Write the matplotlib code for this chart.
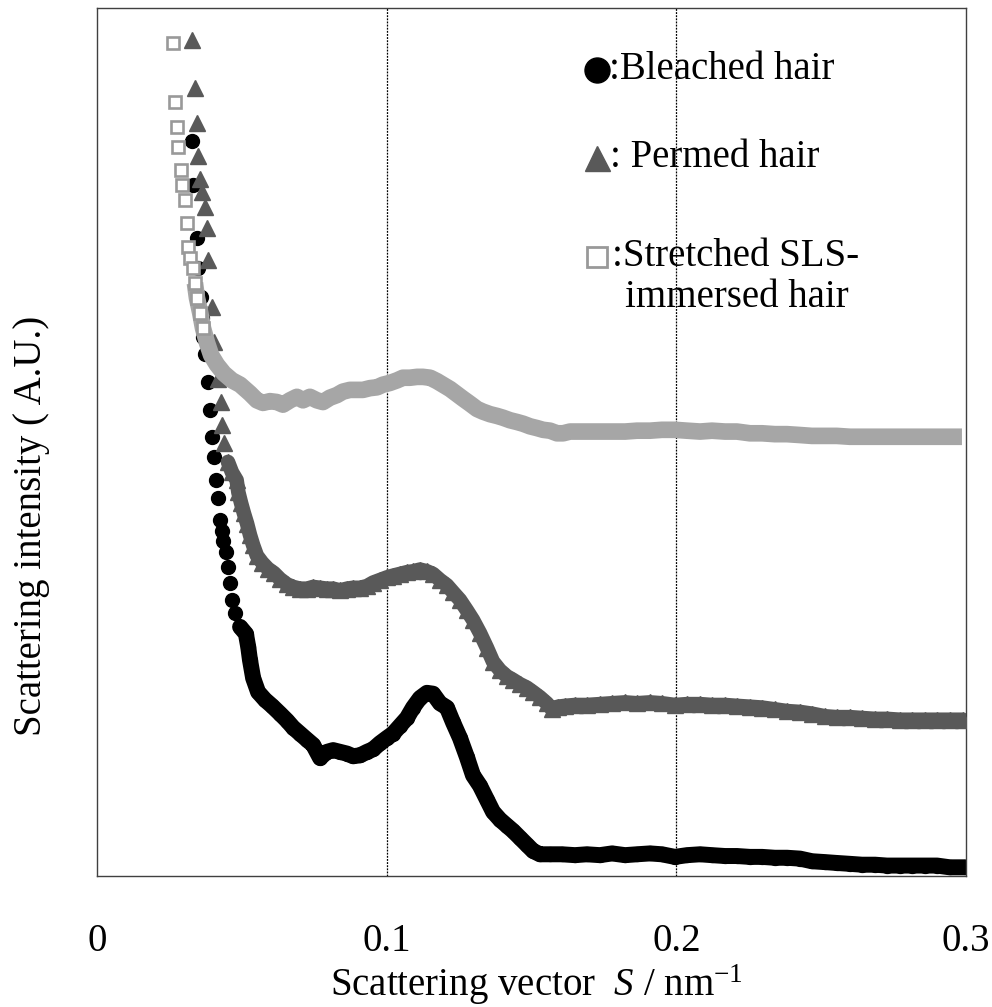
import matplotlib
matplotlib.use("Agg")
import matplotlib.pyplot as plt

plt.rcParams['font.family'] = ['Liberation Serif', 'DejaVu Serif']
plt.rcParams['mathtext.fontset'] = 'custom'
plt.rcParams['mathtext.rm'] = 'Liberation Serif'
plt.rcParams['mathtext.it'] = 'Liberation Serif:italic'

# Bleached hair (circles)
bleached_s = [0.0327, 0.0332, 0.0344, 0.0350, 0.0359, 0.0362, 0.0367, 0.0373, 0.0384, 0.0390,
              0.0396, 0.0404, 0.0411, 0.0419, 0.0425, 0.0432, 0.0436, 0.0445, 0.0453, 0.0459,
              0.0465, 0.0476, 0.0494, 0.0514, 0.0522, 0.0528, 0.0539, 0.0556, 0.0580, 0.0604,
              0.0632, 0.0656, 0.0677, 0.0701, 0.0725, 0.0746, 0.0770, 0.0794, 0.0815, 0.0839,
              0.0863, 0.0884, 0.0908, 0.0932, 0.0953, 0.0977, 0.1001, 0.1022, 0.1046, 0.1070,
              0.1091, 0.1115, 0.1139, 0.1160, 0.1184, 0.1208, 0.1229, 0.1253, 0.1277, 0.1298,
              0.1322, 0.1346, 0.1367, 0.1391, 0.1415, 0.1436, 0.1460, 0.1484, 0.1505, 0.1529,
              0.1564, 0.1605, 0.1650, 0.1691, 0.1736, 0.1778, 0.1823, 0.1864, 0.1909, 0.1950,
              0.1995, 0.2037, 0.2082, 0.2123, 0.2168, 0.2209, 0.2254, 0.2296, 0.2340, 0.2382,
              0.2427, 0.2468, 0.2513, 0.2554, 0.2599, 0.2641, 0.2686, 0.2727, 0.2772, 0.2813,
              0.2858, 0.2900, 0.2944, 0.2996]
bleached_i = [84.7, 79.6, 73.5, 70.0, 66.7, 64.3, 62.1, 60.1, 56.9, 53.7,
              50.6, 48.3, 45.6, 43.5, 41.0, 39.7, 38.6, 37.3, 35.6, 33.8,
              31.8, 30.3, 28.7, 27.9, 26.4, 24.9, 22.8, 21.2, 20.3, 19.6,
              18.7, 17.9, 17.1, 16.4, 15.7, 15.1, 13.6, 14.3, 14.5, 14.3,
              14.1, 13.8, 13.9, 14.3, 14.6, 15.3, 15.9, 16.4, 17.3, 18.2,
              19.4, 20.5, 21.1, 21.0, 19.9, 19.4, 17.7, 15.9, 13.7, 11.6,
              10.4, 8.8, 7.4, 6.5, 5.8, 5.2, 4.4, 3.6, 2.9, 2.5,
              2.5, 2.5, 2.4, 2.5, 2.4, 2.6, 2.4, 2.5, 2.6, 2.5,
              2.2, 2.4, 2.5, 2.4, 2.3, 2.3, 2.2, 2.2, 2.1, 2.1,
              2.0, 1.7, 1.6, 1.5, 1.4, 1.3, 1.3, 1.2, 1.2, 1.2,
              1.2, 1.2, 1.0, 1.0]
bleached_band_start = 22

# Permed hair (triangles)
permed_s = [0.0327, 0.0338, 0.0346, 0.0350, 0.0356, 0.0361, 0.0373, 0.0379, 0.0384, 0.0396,
            0.0404, 0.0416, 0.0427, 0.0433, 0.0440, 0.0452, 0.0466, 0.0482, 0.0488, 0.0497,
            0.0507, 0.0518, 0.0528, 0.0539, 0.0552, 0.0570, 0.0590, 0.0611, 0.0632, 0.0656,
            0.0677, 0.0701, 0.0725, 0.0746, 0.0770, 0.0794, 0.0815, 0.0839, 0.0863, 0.0884,
            0.0908, 0.0932, 0.0953, 0.0977, 0.1001, 0.1022, 0.1046, 0.1070, 0.1091, 0.1115,
            0.1139, 0.1160, 0.1184, 0.1208, 0.1229, 0.1253, 0.1277, 0.1298, 0.1322, 0.1346,
            0.1367, 0.1391, 0.1415, 0.1436, 0.1460, 0.1484, 0.1505, 0.1529, 0.1553, 0.1571,
            0.1591, 0.1616, 0.1650, 0.1691, 0.1736, 0.1778, 0.1823, 0.1864, 0.1909, 0.1950,
            0.1995, 0.2037, 0.2082, 0.2123, 0.2168, 0.2209, 0.2254, 0.2296, 0.2340, 0.2382,
            0.2427, 0.2468, 0.2513, 0.2554, 0.2599, 0.2641, 0.2686, 0.2727, 0.2772, 0.2813,
            0.2858, 0.2900, 0.2944, 0.2989]
permed_i = [96.3, 90.8, 86.8, 82.9, 80.3, 78.8, 77.1, 74.7, 71.0, 65.6,
            61.5, 57.3, 54.6, 52.0, 49.9, 47.7, 46.5, 45.6, 44.2, 43.0,
            41.8, 40.6, 39.3, 38.1, 36.9, 36.1, 35.4, 34.9, 34.2, 33.6,
            33.3, 33.1, 33.1, 33.3, 33.2, 33.1, 33.1, 32.9, 33.1, 33.2,
            33.2, 33.4, 33.8, 34.1, 34.4, 34.6, 34.8, 35.0, 35.1, 35.3,
            35.1, 34.8, 34.1, 33.5, 32.7, 31.8, 30.6, 29.5, 28.0, 26.3,
            24.7, 23.7, 23.0, 22.6, 22.1, 21.7, 21.2, 20.6, 19.9, 19.2,
            19.5, 19.6, 19.7, 19.7, 19.8, 19.9, 20.0, 19.9, 20.0, 19.9,
            19.7, 19.8, 19.8, 19.7, 19.7, 19.6, 19.5, 19.4, 19.2, 19.0,
            18.9, 18.7, 18.4, 18.3, 18.3, 18.2, 18.1, 18.1, 18.0, 18.0,
            18.0, 18.0, 18.0, 18.0]
permed_band_start = 15

# Stretched SLS-immersed hair (open squares)
stretched_s = [0.0261, 0.0269, 0.0275, 0.0281, 0.0289, 0.0292, 0.0304, 0.0310, 0.0315, 0.0321,
               0.0332, 0.0338, 0.0345, 0.0356, 0.0366, 0.0380, 0.0394, 0.0414, 0.0438, 0.0466,
               0.0494, 0.0528, 0.0552, 0.0573, 0.0597, 0.0621, 0.0642, 0.0666, 0.0690, 0.0711,
               0.0735, 0.0759, 0.0780, 0.0804, 0.0828, 0.0849, 0.0873, 0.0898, 0.0918, 0.0942,
               0.0967, 0.0987, 0.1011, 0.1036, 0.1056, 0.1080, 0.1105, 0.1125, 0.1150, 0.1174,
               0.1194, 0.1219, 0.1243, 0.1263, 0.1288, 0.1312, 0.1332, 0.1357, 0.1381, 0.1401,
               0.1426, 0.1450, 0.1471, 0.1495, 0.1519, 0.1540, 0.1564, 0.1588, 0.1609, 0.1633,
               0.1667, 0.1702, 0.1736, 0.1778, 0.1823, 0.1864, 0.1909, 0.1950, 0.1995, 0.2037,
               0.2082, 0.2123, 0.2168, 0.2209, 0.2254, 0.2296, 0.2340, 0.2382, 0.2427, 0.2468,
               0.2513, 0.2554, 0.2599, 0.2641, 0.2686, 0.2727, 0.2772, 0.2813, 0.2858, 0.2900,
               0.2944, 0.2986]
stretched_i = [96.0, 89.2, 86.3, 84.0, 81.3, 79.6, 77.9, 75.2, 72.5, 71.2,
               70.0, 68.3, 66.6, 64.9, 63.1, 61.4, 60.0, 58.9, 57.9, 57.1,
               56.6, 55.6, 54.8, 54.5, 54.7, 54.6, 54.3, 54.8, 55.2, 54.8,
               55.2, 54.8, 54.6, 55.1, 55.4, 55.8, 56.0, 56.0, 56.0, 56.2,
               56.3, 56.6, 56.8, 57.1, 57.4, 57.4, 57.5, 57.5, 57.4, 57.0,
               56.6, 56.1, 55.5, 55.0, 54.4, 53.8, 53.5, 53.2, 53.0, 52.8,
               52.5, 52.3, 52.1, 51.8, 51.6, 51.4, 51.3, 51.0, 51.0, 51.2,
               51.2, 51.2, 51.2, 51.2, 51.2, 51.3, 51.3, 51.4, 51.4, 51.3,
               51.2, 51.3, 51.2, 51.2, 51.0, 51.0, 50.9, 50.9, 50.8, 50.7,
               50.7, 50.7, 50.6, 50.6, 50.6, 50.6, 50.6, 50.6, 50.6, 50.6,
               50.6, 50.6]
stretched_band_start = 11

x_ticks = [0, 0.1, 0.2, 0.3]
x_tick_labels = ['0', '0.1', '0.2', '0.3']
dotted_lines = [0.1, 0.2]

black = '#000000'
dark_gray = '#595959'
light_gray = '#a6a6a6'

fig = plt.figure(figsize=(9.92, 10.07), dpi=100)
ax = fig.add_axes([0.0978, 0.1301, 0.8760, 0.8620])

for xv in dotted_lines:
    ax.axvline(xv, color='black', linestyle=(0, (1.5, 1)), linewidth=0.9, zorder=1)

# bleached
b0 = bleached_band_start
ax.plot(bleached_s[b0:], bleached_i[b0:], color=black, linewidth=11.5, solid_capstyle='round',
        solid_joinstyle='round', zorder=2)
ax.plot(bleached_s, bleached_i, linestyle='none', marker='o', markersize=10,
        color=black, zorder=2)

# permed
p0 = permed_band_start
ax.plot(permed_s[p0:], permed_i[p0:], color=dark_gray, linewidth=10.5, solid_capstyle='round',
        solid_joinstyle='round', zorder=3)
ax.plot(permed_s, permed_i, linestyle='none', marker='^', markersize=11,
        color=dark_gray, zorder=3)

# stretched
q0 = stretched_band_start
ax.plot(stretched_s[q0:], stretched_i[q0:], color=light_gray, linewidth=12,
        solid_capstyle='butt', solid_joinstyle='round', zorder=4)
ax.plot(stretched_s[:q0 + 4], stretched_i[:q0 + 4], linestyle='none', marker='s', markersize=8.5,
        markerfacecolor='white', markeredgecolor='#999999', markeredgewidth=1.9, zorder=4)

ax.set_xlim(0, 0.3)
ax.set_ylim(0, 100)
ax.set_xticks(x_ticks)
ax.set_xticklabels(x_tick_labels)
ax.set_yticks([])
ax.tick_params(axis='x', length=0, pad=34, labelsize=28)
for sp in ax.spines.values():
    sp.set_color('#404040')
    sp.set_linewidth(1.0)

fig.text(0.5413, 1 - 985 / 1007, 'Scattering vector  $S$ / nm$^{-1}$', ha='center', va='center',
         fontsize=28)
fig.text(0.032, 1 - 526 / 1007, 'Scattering intensity ( A.U.)', ha='center', va='center',
         rotation=90, fontsize=28)

# legend drawn by hand
tr = ax.transAxes
ax.plot([0.5754], [0.9286], marker='o', markersize=18, color=black, transform=tr, clip_on=False)
ax.text(0.589, 0.9286, ':Bleached hair', transform=tr, ha='left', va='center', fontsize=28)
ax.plot([0.5754], [0.8272], marker='^', markersize=18, color=dark_gray, transform=tr, clip_on=False)
ax.text(0.5905, 0.8272, ': Permed hair', transform=tr, ha='left', va='center', fontsize=28)
ax.plot([0.5754], [0.7131], marker='s', markersize=15, markerfacecolor='white',
        markeredgecolor='#999999', markeredgewidth=2, transform=tr, clip_on=False)
ax.text(0.5925, 0.7131, ':Stretched SLS-', transform=tr, ha='left', va='center', fontsize=28)
ax.text(0.6076, 0.667, 'immersed hair', transform=tr, ha='left', va='center', fontsize=28)

fig.savefig('out.png', dpi=100)
